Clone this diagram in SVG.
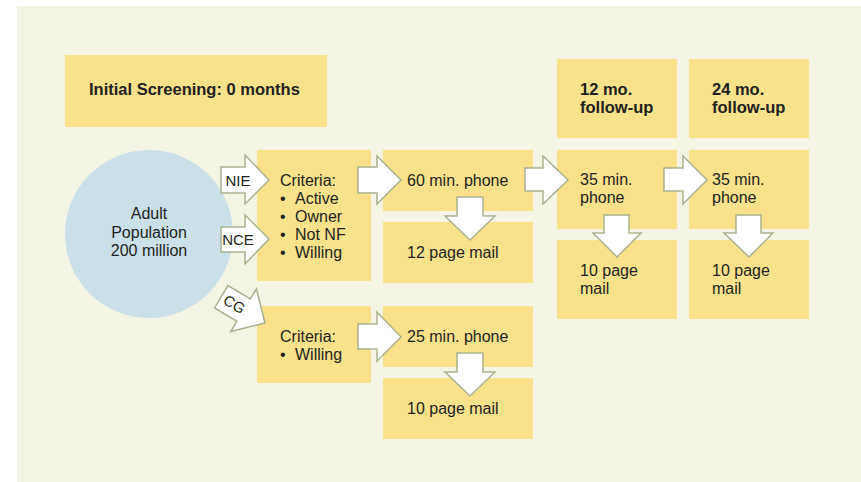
<svg xmlns="http://www.w3.org/2000/svg" width="861" height="482" viewBox="0 0 861 482">
<defs>
<style>
.box{fill:#fae18c;}
.arr{fill:#ffffff;stroke:#a9b38f;stroke-width:1.5;stroke-linejoin:miter;}
text{font-family:"Liberation Sans",Arial,sans-serif;font-size:16px;fill:#231f20;}
.b{font-weight:bold;font-size:16.5px;}
.c{text-anchor:middle;}
.lbl{font-size:15px;}
</style>
</defs>
<rect x="17" y="6" width="844" height="476" fill="#f4f4e4"/>

<g id="header0">
<rect class="box" x="65" y="55" width="262" height="72"/>
<text class="b" x="89" y="95">Initial Screening: 0 months</text>
</g>
<g id="header12">
<rect class="box" x="557" y="59" width="120" height="79"/>
<text class="b" x="580" y="95">12 mo.</text>
<text class="b" x="580" y="113">follow-up</text>
</g>
<g id="header24">
<rect class="box" x="689" y="59" width="120" height="79"/>
<text class="b" x="712" y="95">24 mo.</text>
<text class="b" x="712" y="113">follow-up</text>
</g>

<g id="population">
<circle cx="149" cy="234" r="84" fill="#cce0ea"/>
<text class="c" x="149" y="219">Adult</text>
<text class="c" x="149" y="238">Population</text>
<text class="c" x="149" y="256">200 million</text>
</g>

<g id="criteria1">
<rect class="box" x="257" y="150" width="114" height="131"/>
<text x="280" y="186">Criteria:</text>
<text x="280" y="204">•</text><text x="295" y="204">Active</text>
<text x="280" y="222">•</text><text x="295" y="222">Owner</text>
<text x="280" y="240">•</text><text x="295" y="240">Not NF</text>
<text x="280" y="258">•</text><text x="295" y="258">Willing</text>
</g>
<g id="phone60">
<rect class="box" x="383" y="150" width="150" height="61"/>
<text x="407" y="186">60 min. phone</text>
</g>
<g id="mail12">
<rect class="box" x="383" y="222" width="150" height="61"/>
<text x="407" y="258">12 page mail</text>
</g>

<g id="criteria2">
<rect class="box" x="257" y="306" width="114" height="77"/>
<text x="280" y="342">Criteria:</text>
<text x="280" y="360">•</text><text x="295" y="360">Willing</text>
</g>
<g id="phone25">
<rect class="box" x="383" y="306" width="150" height="61"/>
<text x="407" y="342">25 min. phone</text>
</g>
<g id="mail10">
<rect class="box" x="383" y="378" width="150" height="61"/>
<text x="407" y="414">10 page mail</text>
</g>

<g id="phone35a">
<rect class="box" x="557" y="150" width="120" height="79"/>
<text x="580" y="185">35 min.</text>
<text x="580" y="203">phone</text>
</g>
<g id="mail10a">
<rect class="box" x="557" y="240" width="120" height="79"/>
<text x="580" y="276">10 page</text>
<text x="580" y="294">mail</text>
</g>
<g id="phone35b">
<rect class="box" x="689" y="150" width="120" height="79"/>
<text x="712" y="185">35 min.</text>
<text x="712" y="203">phone</text>
</g>
<g id="mail10b">
<rect class="box" x="689" y="240" width="120" height="79"/>
<text x="712" y="276">10 page</text>
<text x="712" y="294">mail</text>
</g>

<g id="connectors">
<polygon class="arr" points="221,167 245,167 245,155 269,180 245,204 245,193 221,193"/>
<text class="c lbl" x="238" y="186">NIE</text>
<polygon class="arr" points="221,227 245,227 245,215 269,239 245,264 245,252 221,252"/>
<text class="c lbl" x="238" y="245">NCE</text>
<g transform="translate(265,323) rotate(31)">
<polygon class="arr" points="-51,-13 -25,-13 -25,-25 0,0 -25,25 -25,13 -51,13"/>
<text class="c lbl" x="-36" y="5">CG</text>
</g>
<polygon class="arr" points="358,167 377,167 377,156 401,180 377,204 377,193 358,193"/>
<polygon class="arr" points="457,197 483,197 483,216 495,216 470,240 445,216 457,216"/>
<polygon class="arr" points="358,324 377,324 377,312 401,337 377,361 377,349 358,349"/>
<polygon class="arr" points="457,353 483,353 483,372 495,372 470,396 445,372 457,372"/>
<polygon class="arr" points="525,168 543,168 543,156 568,180 543,204 543,191 525,191"/>
<polygon class="arr" points="664,168 683,168 683,156 707,180 683,204 683,191 664,191"/>
<polygon class="arr" points="604,215 629,215 629,233 641,233 617,257 593,233 604,233"/>
<polygon class="arr" points="736,215 761,215 761,233 773,233 749,257 724,233 736,233"/>
</g>
</svg>
